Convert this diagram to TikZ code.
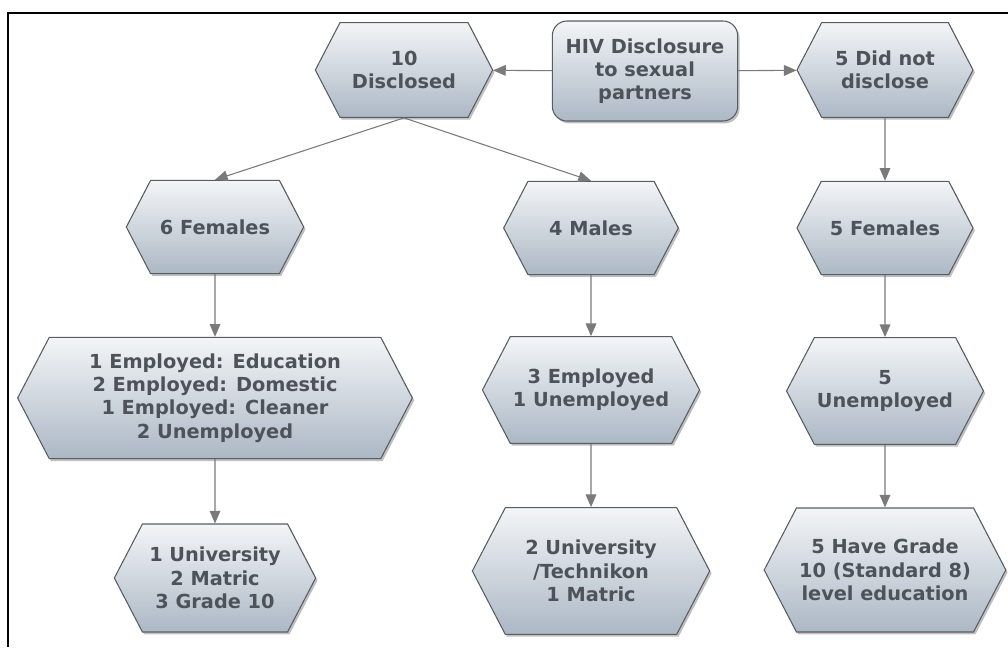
\documentclass[tikz,border=0pt]{standalone}
\usepackage{fontspec}
\setmainfont{DejaVu Sans}
\usetikzlibrary{shapes.symbols,shadows,arrows.meta}
\definecolor{HexTop}{RGB}{243,245,247}
\definecolor{HexBottom}{RGB}{172,184,197}
\definecolor{HexLine}{RGB}{88,93,100}
\definecolor{TextGrey}{RGB}{78,83,89}
\definecolor{ArrowGrey}{RGB}{122,122,122}

\begin{document}
\begin{tikzpicture}[x=0.75pt,y=-0.75pt]
  \tikzset{HexStyle/.style = {shape               = signal,
                              signal to           = west and east,
                              signal pointer angle = 125,
                              top color           = HexTop,
                              bottom color        = HexBottom,
                              draw                = HexLine,
                              line width          = 0.8pt,
                              drop shadow         = {shadow xshift=1.4pt,
                                                     shadow yshift=-1.8pt,
                                                     opacity=0.5},
                              text                = TextGrey,
                              font                = \fontsize{14.5}{17.5}\selectfont\bfseries,
                              align               = center,
                              inner sep           = 2pt}}
  \tikzset{BoxStyle/.style   = {HexStyle,
                              shape               = rectangle,
                              rounded corners     = 11pt}}
  \tikzset{EdgeStyle/.style  = {draw                = ArrowGrey,
                              line width          = 0.8pt,
                              -{Triangle[length=9.5pt,width=8pt]}}}
  \tikzset{FrameStyle/.style = {line width = 2.2pt, black}}

\useasboundingbox (0,0) rectangle (1008,647);
\draw[FrameStyle] (8,647) -- (8,13) -- (1008,13);

\coordinate (R1) at (645,71);
\coordinate (D1) at (404,70);
\coordinate (N1) at (885,70);
\coordinate (D2) at (215,227);
\coordinate (M2) at (591,228);
\coordinate (N2) at (885,228);
\coordinate (D3) at (215,398);
\coordinate (M3) at (591,390);
\coordinate (N3) at (885,391);
\coordinate (D4) at (215,578);
\coordinate (M4) at (591,571);
\coordinate (N4) at (885,570);

\node[BoxStyle, minimum width=139pt, minimum height=75pt] (root) at (R1)
  {HIV Disclosure\\to sexual\\partners};
\node[HexStyle, minimum width=133pt, minimum height=71pt] (disc) at (D1)
  {10\\Disclosed};
\node[HexStyle, minimum width=132pt, minimum height=71pt] (nodisc) at (N1)
  {5 Did not\\disclose};
\node[HexStyle, minimum width=133pt, minimum height=70pt] (fem) at (D2)
  {6 Females};
\node[HexStyle, minimum width=131pt, minimum height=70pt] (male) at (M2)
  {4 Males};
\node[HexStyle, minimum width=132pt, minimum height=70pt] (femnd) at (N2)
  {5 Females};
\node[HexStyle, minimum width=296pt, minimum height=91pt] (femjob) at (D3)
  {1 Employed: Education\\2 Employed: Domestic\\1 Employed: Cleaner\\2 Unemployed};
\node[HexStyle, minimum width=162pt, minimum height=80pt] (malejob) at (M3)
  {3 Employed\\1 Unemployed};
\node[HexStyle, minimum width=147pt, minimum height=80pt] (ndjob) at (N3)
  {5\\Unemployed};
\node[HexStyle, minimum width=151pt, minimum height=81pt] (femedu) at (D4)
  {1 University\\2 Matric\\3 Grade 10};
\node[HexStyle, minimum width=178pt, minimum height=95pt] (maleedu) at (M4)
  {2 University\\/Technikon\\1 Matric};
\node[HexStyle, minimum width=180pt, minimum height=93pt] (ndedu) at (N4)
  {5 Have Grade\\10 (Standard 8)\\level education};

\draw[EdgeStyle] (root) -- (disc);
\draw[EdgeStyle] (root) -- (nodisc);
\draw[EdgeStyle] (disc.south) -- (fem.north);
\draw[EdgeStyle] (disc.south) -- (male.north);
\draw[EdgeStyle] (nodisc) -- (femnd);
\draw[EdgeStyle] (fem) -- (femjob);
\draw[EdgeStyle] (male) -- (malejob);
\draw[EdgeStyle] (femnd) -- (ndjob);
\draw[EdgeStyle] (femjob) -- (femedu);
\draw[EdgeStyle] (malejob) -- (maleedu);
\draw[EdgeStyle] (ndjob) -- (ndedu);
\end{tikzpicture}
\end{document}
